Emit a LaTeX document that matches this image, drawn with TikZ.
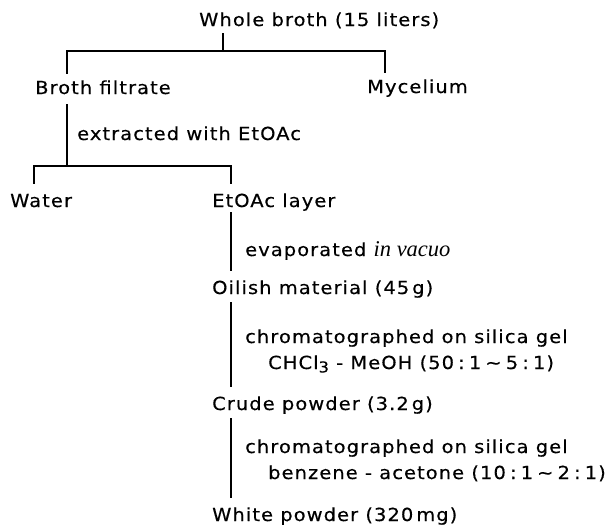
\documentclass[tikz,border=0pt]{standalone}
\usepackage{fontspec}
\newfontfamily\flowfont[FakeStretch=1.08,LetterSpace=6,FakeBold=0.4]{DejaVu Sans}
\newfontfamily\vacuofont{Liberation Serif}
\newcommand\chemsub[1]{\raisebox{-0.35ex}{\fontsize{15}{15}\selectfont #1}}
\newcommand\rsp{\hspace{0.23em}}
\usetikzlibrary{positioning,calc}

\begin{document}
\begin{tikzpicture}[x=1pt,y=-1pt,lbl/.style={anchor=base west,inner sep=0pt,font=\flowfont\fontsize{18}{22}\selectfont},br/.style={line width=1.3pt,line cap=rect}]
\useasboundingbox (0,0) rectangle (609,525);
\node[lbl] (whole) at (199,26) {Whole broth (15 liters)};
\node[lbl] (filtrate) at (35,94) {Broth filtrate};\node[lbl] (mycel) at (367,93) {Mycelium};
\node[lbl] (extr) at (77,140) {extracted with EtOAc};
\node[lbl] (water) at (10,207) {Water};\node[lbl] (etoac) at (212,207) {EtOAc layer};
\node[lbl] (evap) at (245,256) {evaporated {\vacuofont\itshape\fontsize{22.5}{22}\selectfont in vacuo}};
\node[lbl] (oil) at (212,294) {Oilish material (45\,g)};
\node[lbl] (chrom1) at (245,343) {chromatographed on silica gel};
\node[lbl] (solv1) at (268,369) {CHCl\chemsub{3} - MeOH (50\rsp:\rsp1\rsp\textasciitilde\rsp5\rsp:\rsp1)};
\node[lbl] (crude) at (212,410) {Crude powder (3.2\,g)};
\node[lbl] (chrom2) at (245,453) {chromatographed on silica gel};
\node[lbl] (solv2) at (268,479) {benzene - acetone (10\rsp:\rsp1\rsp\textasciitilde\rsp2\rsp:\rsp1)};
\node[lbl] (white) at (212,521) {White powder (320\,mg)};
% junctions of the two forks and the main stems
\coordinate (f0) at (223,51);\coordinate (f1) at (67,51);\coordinate (f2) at (385,51);
\coordinate (g0) at (67,166);\coordinate (g1) at (34,166);\coordinate (g2) at (231,166);
\draw[br,shorten <=5pt] (f0 |- whole.south) -- (f0);
\draw[br,shorten <=7pt,shorten >=7pt] (f1 |- filtrate.north) -- (f1) -- (f2) -- (f2 |- mycel.north);
\draw[br,shorten <=10pt] (g0 |- filtrate.south) -- (g0);
\draw[br,shorten <=10pt,shorten >=10pt] (g1 |- water.north) -- (g1) -- (g2) -- (g2 |- etoac.north);
\draw[br,shorten <=2pt,shorten >=10pt] (g2 |- etoac.south) -- (g2 |- oil.north);
\draw[br,shorten <=5pt,shorten >=10pt] (g2 |- oil.south) -- (g2 |- crude.north);
\draw[br,shorten <=5pt,shorten >=10pt] (g2 |- crude.south) -- (g2 |- white.north);
\end{tikzpicture}
\end{document}
